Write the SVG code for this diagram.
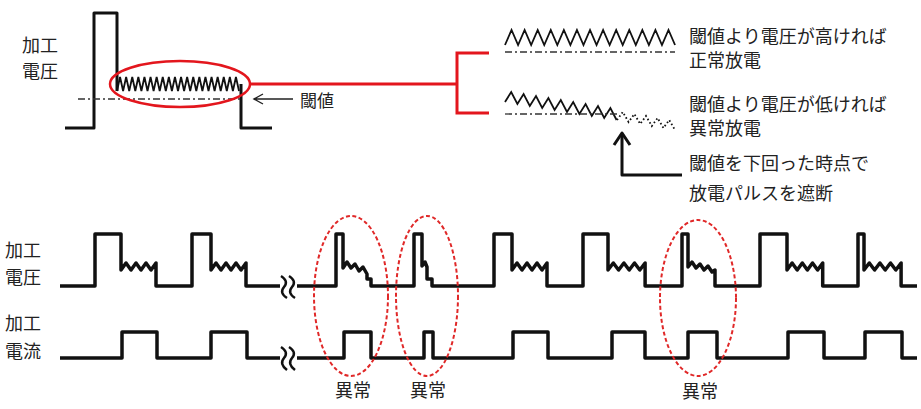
<svg xmlns="http://www.w3.org/2000/svg" width="921" height="409" viewBox="0 0 921 409">
<style>
.t{font-family:"Noto Sans CJK JP","Noto Sans CJK SC",sans-serif;font-size:18px;fill:#222;dominant-baseline:central}
.w{fill:none;stroke:#111;stroke-width:3.5;stroke-linejoin:round;stroke-linecap:butt}
.z{fill:none;stroke:#111;stroke-width:1.8;stroke-linejoin:miter}
.dd{fill:none;stroke:#333;stroke-width:1.3;stroke-dasharray:7 3 2 3}
.red{fill:none;stroke:#e3161d;stroke-width:3}
.rd{fill:none;stroke:#e02828;stroke-width:2;stroke-dasharray:4 2.5}
.thin{fill:none;stroke:#222;stroke-width:1.4}
</style>
<rect width="921" height="409" fill="#fff"/>

<g id="top-labels">
<text class="t" x="22" y="44">加工</text>
<text class="t" x="22" y="70">電圧</text>
</g>

<g id="top-pulse">
<path class="w" style="stroke-width:3" d="M65,128 H94 V13 H117 V91"/>
<path class="z" d="M117,91 l3.05,-14 l3.05,14 l3.05,-14 l3.05,14 l3.05,-14 l3.05,14 l3.05,-14 l3.05,14 l3.05,-14 l3.05,14 l3.05,-14 l3.05,14 l3.05,-14 l3.05,14 l3.05,-14 l3.05,14 l3.05,-14 l3.05,14 l3.05,-14 l3.05,14 l3.05,-14 l3.05,14 l3.05,-14 l3.05,14 l3.05,-14 l3.05,14 l3.05,-14 l3.05,14 l3.05,-14 l3.05,14 l3.05,-14 l3.05,14 l3.05,-14 l3.05,14 l3.05,-14 l3.05,14 l3.05,-14 l3.05,14 l3.05,-14 l3.05,14"/>
<path class="w" style="stroke-width:3" d="M241,84 V128 H272"/>
<line class="dd" x1="78" y1="99" x2="240" y2="99"/>
<ellipse class="red" style="stroke-width:2.5" cx="180" cy="84" rx="70" ry="23"/>
</g>

<g id="threshold-label">
<path class="thin" d="M255,99 H293 M263,94 L254,99 L263,104"/>
<text class="t" x="300" y="99" style="font-size:17px">閾値</text>
</g>

<g id="connectors">
<path class="red" d="M250,84 H457 M489,53 H457 V113 H489"/>
<path class="w" style="stroke-width:3" d="M682,175 H622 V134"/>
<path class="w" style="stroke-width:3" d="M614,145 L622,133 L630,145"/>
</g>

<g id="normal">
<path class="z" d="M505,45 l6.54,-15 l6.54,15 l6.54,-15 l6.54,15 l6.54,-15 l6.54,15 l6.54,-15 l6.54,15 l6.54,-15 l6.54,15 l6.54,-15 l6.54,15 l6.54,-15 l6.54,15 l6.54,-15 l6.54,15 l6.54,-15 l6.54,15 l6.54,-15 l6.54,15 l6.54,-15 l6.54,15 l6.54,-15 l6.54,15 l6.54,-15 l6.54,15"/>
<line class="dd" x1="505" y1="52" x2="675" y2="52"/>
<text class="t" x="689" y="35">閾値より電圧が高ければ</text>
<text class="t" x="689" y="59">正常放電</text>
</g>

<g id="abnormal">
<path class="z" d="M505,102 l6.2,-10 l6.2,12 l6.2,-10 l6.2,12 l6.2,-10 l6.2,12 l6.2,-10 l6.2,12 l6.2,-10 l6.2,12 l6.2,-10 l6.2,12 l6.2,-10 l6.2,12 l6.2,-10 l6.2,12 l6.2,-10 l6.2,12"/>
<path class="z" style="stroke-dasharray:1.6 2.4" d="M617,120 l5.8,-8 l5.8,10 l5.8,-8 l5.8,10 l5.8,-8 l5.8,10 l5.8,-8 l5.8,10 l5.8,-8 l5.8,10"/>
<line class="dd" x1="505" y1="114" x2="620" y2="114"/>
<text class="t" x="689" y="103">閾値より電圧が低ければ</text>
<text class="t" x="689" y="127">異常放電</text>
</g>

<g id="cutoff-note">
<text class="t" x="689" y="162">閾値を下回った時点で</text>
<text class="t" x="689" y="192">放電パルスを遮断</text>
</g>

<g id="bottom-labels">
<text class="t" x="5" y="249">加工</text>
<text class="t" x="5" y="276">電圧</text>
<text class="t" x="5" y="322">加工</text>
<text class="t" x="5" y="350">電流</text>
</g>

<g id="voltage-wave">
<path class="w" d="M60,286 H95 V234 H121 V270 l5,-7 l5,7 l5,-7 l5,7 l5,-7 l5,7 l5,-7 V286 H192 V234 H211 V270 l5,-7 l5,7 l5,-7 l5,7 l5,-7 l5,7 l5,-7 V286 H280"/>
<path class="w" d="M297,286 H336 V234 H343 V268 l4,-6 l4,6 l4,-4 l4,7 l4,-4 l4,7 V279 H371 V286 H414 V234 H422 V266 l3,-4 l2,5 V279 H432 V286 H494 V234 H512 V270 l5,-7 l5,7 l5,-7 l5,7 l5,-7 l5,7 l5,-7 V286 H583 V234 H608 V270 l5.3,-7 l5.3,7 l5.3,-7 l5.3,7 l5.3,-7 l5.3,7 l5.3,-7 V286 H682 V234 H688 V267 l4,-5 l4,6 l4,-4 l4,6 l4,-4 l4,6 l3,-2 V286 H760 V234 H787 V270 l5.1,-7 l5.1,7 l5.1,-7 l5.1,7 l5.1,-7 l5.1,7 l5.1,-7 V286 H858 V234 H864 V270 l5.3,-7 l5.3,7 l5.3,-7 l5.3,7 l5.3,-7 l5.3,7 l5.3,-7 V286 H917"/>
<path class="w" style="stroke-width:2.5" d="M281,276 Q289,281 284,287 Q279,293 287,298 M289,276 Q297,281 292,287 Q287,293 295,298"/>
</g>

<g id="current-wave">
<path class="w" d="M60,358 H122 V332 H157 V358 H211 V332 H247 V358 H280"/>
<path class="w" d="M297,358 H344 V332 H371 V358 H424 V332 H433 V358 H513 V332 H548 V358 H612 V332 H645 V358 H688 V332 H717 V358 H788 V332 H824 V358 H865 V332 H902 V358 H917"/>
<path class="w" style="stroke-width:2.5" d="M281,347 Q289,352 284,358 Q279,364 287,370 M289,347 Q297,352 292,358 Q287,364 295,370"/>
</g>

<g id="abnormal-marks">
<ellipse class="rd" cx="351" cy="296" rx="37" ry="80"/>
<ellipse class="rd" cx="427" cy="296" rx="31" ry="80"/>
<ellipse class="rd" cx="698" cy="298" rx="38" ry="78"/>
<text class="t" x="353" y="389" text-anchor="middle">異常</text>
<text class="t" x="428" y="389" text-anchor="middle">異常</text>
<text class="t" x="700" y="390" text-anchor="middle">異常</text>
</g>
</svg>
